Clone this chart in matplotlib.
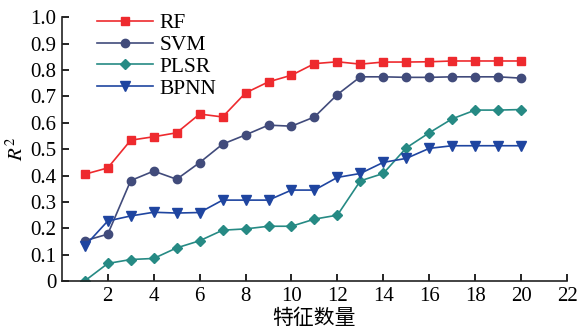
import matplotlib
matplotlib.use("Agg")
import matplotlib.pyplot as plt
from matplotlib.ticker import FuncFormatter

plt.rcParams['font.family'] = ['Liberation Serif', 'Noto Sans CJK SC']
plt.rcParams['mathtext.fontset'] = 'stix'

features = list(range(1, 21))
rf = [0.405, 0.429, 0.534, 0.547, 0.562, 0.633, 0.622, 0.713, 0.755, 0.780,
      0.824, 0.831, 0.822, 0.830, 0.830, 0.831, 0.834, 0.834, 0.834, 0.834]
svm = [0.153, 0.178, 0.381, 0.417, 0.386, 0.449, 0.519, 0.554, 0.591, 0.587,
       0.622, 0.707, 0.774, 0.774, 0.772, 0.772, 0.774, 0.774, 0.774, 0.769]
plsr = [0.001, 0.067, 0.082, 0.086, 0.126, 0.153, 0.193, 0.198, 0.208, 0.208,
        0.235, 0.250, 0.380, 0.408, 0.505, 0.562, 0.615, 0.648, 0.648, 0.650]
bpnn = [0.133, 0.228, 0.247, 0.261, 0.258, 0.260, 0.307, 0.307, 0.307, 0.345,
        0.345, 0.393, 0.408, 0.450, 0.465, 0.503, 0.513, 0.513, 0.513, 0.513]

series = [("RF", rf, "#ee2a2e", "s", 5.5),
          ("SVM", svm, "#414b7b", "o", 6),
          ("PLSR", plsr, "#268a84", "D", 5.5),
          ("BPNN", bpnn, "#1f45a0", "v", 6.5)]

fig = plt.figure(figsize=(5.78, 3.30), dpi=100)
ax = fig.add_axes([0.107, 0.148, 0.874, 0.800])

for name, vals, col, mk, ms in series:
    ax.plot(features, vals, color=col, marker=mk, markersize=ms, linewidth=1.2, label=name)

ax.set_xlim(0, 22)
ax.set_ylim(0, 1.0)
ax.set_xticks(range(2, 23, 2))
ax.set_yticks([i / 10 for i in range(11)])
ax.yaxis.set_major_formatter(FuncFormatter(lambda v, p: "0" if v == 0 else f"{v:.1f}"))
ax.tick_params(direction='in', length=5, width=1.2, labelsize=15, pad=4)
for s in ['top', 'right']:
    ax.spines[s].set_visible(False)
for s in ['left', 'bottom']:
    ax.spines[s].set_linewidth(1.2)
    ax.spines[s].set_color('#222222')

ax.set_xlabel("特征数量", fontsize=15, labelpad=3)
ax.set_ylabel("$R^2$", fontsize=15, labelpad=2)

ax.legend(loc='upper left', bbox_to_anchor=(0.04, 1.072), frameon=False, fontsize=15.5,
          handlelength=2.6, handletextpad=0.3, labelspacing=0.08, borderpad=0.2)

fig.savefig("out.png", dpi=100)
